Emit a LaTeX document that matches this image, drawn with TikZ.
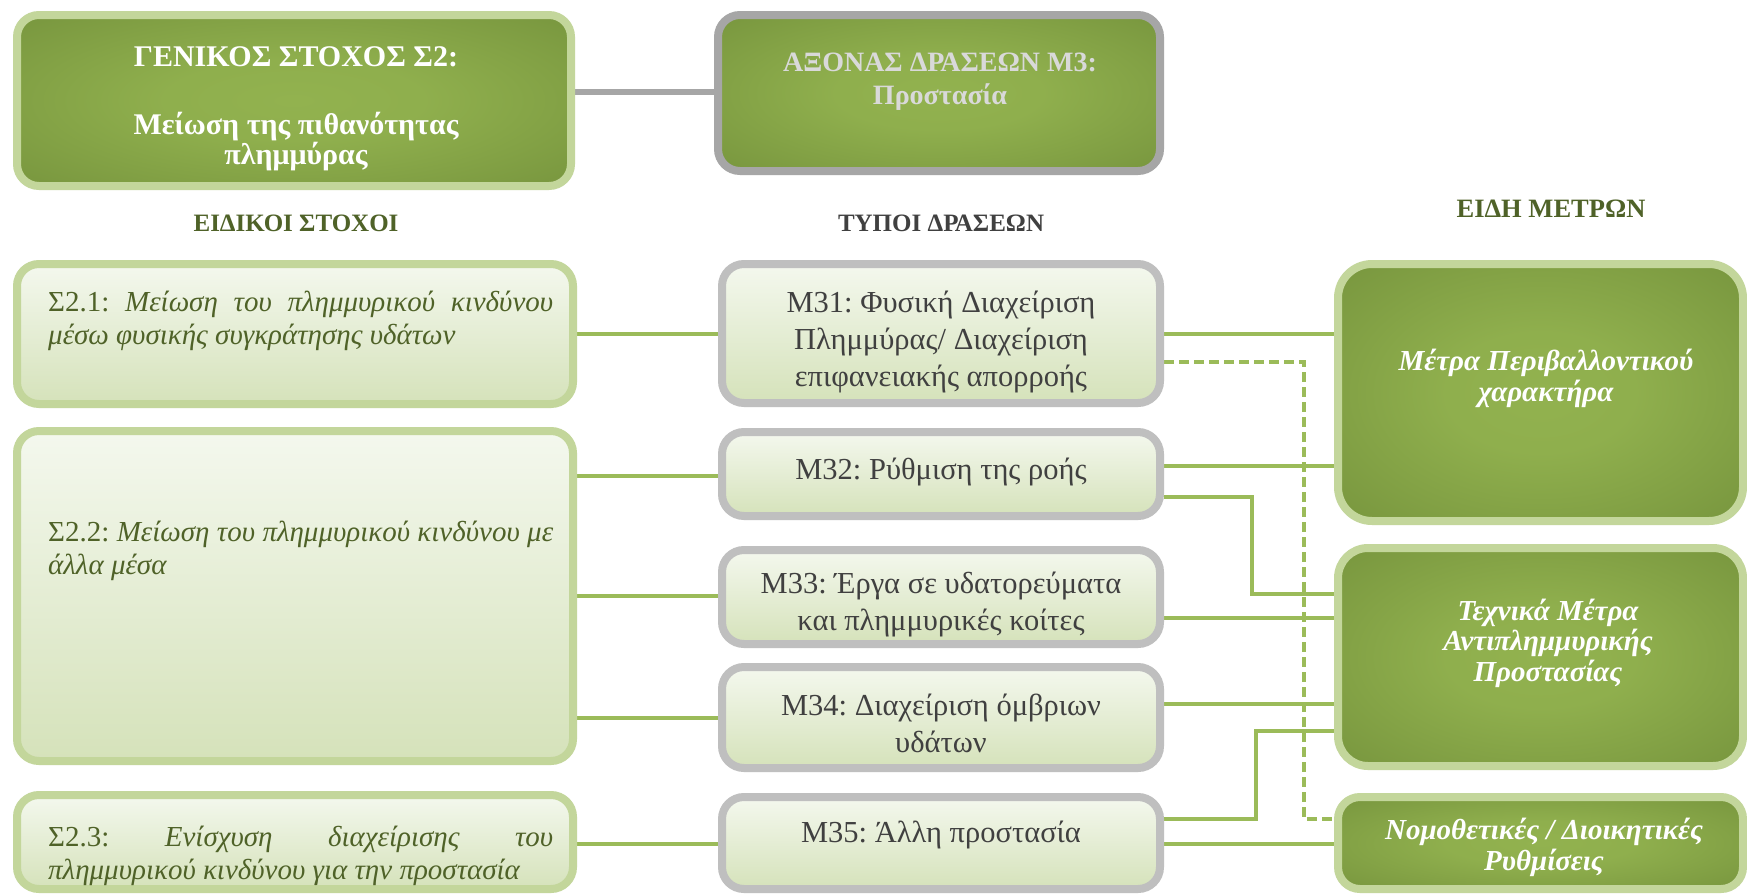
\documentclass[tikz,border=0pt]{standalone}
\usepackage{fontspec}
\setmainfont{Liberation Serif}
\usetikzlibrary{backgrounds}
\frenchspacing

\definecolor{lgborder}{HTML}{C3D69B}
\definecolor{gyborder}{HTML}{BFBFBF}
\definecolor{gyborderdark}{HTML}{A6A6A6}
\definecolor{darkin}{HTML}{92B24F}
\definecolor{darkout}{HTML}{6A8735}
\definecolor{lighttop}{HTML}{F4F8EE}
\definecolor{lightbot}{HTML}{D5E2BA}
\definecolor{linkgreen}{HTML}{9BBB59}
\definecolor{txtgreen}{HTML}{4F6228}
\definecolor{txtgray}{HTML}{404040}
\definecolor{txtsilver}{HTML}{D9D9D9}

% soft glow from the centre of a dark box out to its edges
\pgfdeclareradialshading{boxglow}{\pgfpoint{0bp}{0bp}}{color(0bp)=(darkin); color(12bp)=(darkin!92!darkout); color(50bp)=(darkout)}

\begin{document}
\begin{tikzpicture}[x=1pt,y=-1pt,
  box/.style={line width=8pt, rounded corners=22pt, inner sep=0pt},
  darkbox/.style={box, draw=lgborder, shading=boxglow, shade},
  graydarkbox/.style={box, draw=gyborderdark, shading=boxglow, shade},
  lightbox/.style={box, draw=lgborder, top color=lighttop, bottom color=lightbot},
  graylightbox/.style={box, draw=gyborder, top color=lighttop, bottom color=lightbot},
  link/.style={draw=linkgreen, line width=3.5pt},
  dlink/.style={link, line width=3.8pt, dash pattern=on 10pt off 5pt},
  axislink/.style={draw=gyborderdark, line width=5.5pt},
  hdr/.style={font=\bfseries\fontsize{25}{28}\selectfont, anchor=base, inner sep=0pt},
  gentxt/.style={text=white, font=\bfseries\fontsize{30}{30}\selectfont, align=center, anchor=base, inner sep=0pt},
  axistxt/.style={text=txtsilver, font=\bfseries\fontsize{28}{33}\selectfont, align=center, anchor=base, inner sep=0pt},
  lefttxt/.style={text=txtgreen, font=\fontsize{29}{33}\selectfont, text width=505pt, align=justify, anchor=base west, inner sep=0pt},
  midtxt/.style={text=txtgray, font=\fontsize{30.5}{37}\selectfont, align=center, anchor=base, inner sep=0pt},
  righttxt/.style={text=white, font=\bfseries\itshape\fontsize{29}{30.5}\selectfont, align=center, anchor=base, inner sep=0pt}
]
\useasboundingbox (0,0) rectangle (1747,894);

% top row: general goal and action axis
\node[darkbox, minimum width=554pt, minimum height=171pt] (gen) at (294,100.5) {};
\node[graydarkbox, minimum width=442pt, minimum height=156pt] (axis) at (939,93) {};

% specific goals
\node[lightbox, minimum width=556pt, minimum height=140pt] (s21) at (295,334) {};
\node[lightbox, minimum width=556pt, minimum height=330pt] (s22) at (295,596) {};
\node[lightbox, minimum width=556pt, minimum height=94pt] (s23) at (295,842) {};

% action types
\node[graylightbox, minimum width=438pt, minimum height=139pt] (m31) at (941,333.5) {};
\node[graylightbox, minimum width=438pt, minimum height=84pt] (m32) at (941,474) {};
\node[graylightbox, minimum width=438pt, minimum height=94pt] (m33) at (941,597) {};
\node[graylightbox, minimum width=438pt, minimum height=101pt] (m34) at (941,717.5) {};
\node[graylightbox, minimum width=438pt, minimum height=92pt] (m35) at (941,843) {};

% kinds of measures
\node[darkbox, rounded corners=34pt, minimum width=405pt, minimum height=257pt] (env) at (1540.5,392.5) {};
\node[darkbox, rounded corners=30pt, minimum width=405pt, minimum height=218pt] (tech) at (1540.5,657) {};
\node[darkbox, minimum width=405pt, minimum height=92pt] (nom) at (1540.5,843) {};

% paper and connectors, beneath the boxes
\begin{scope}[on background layer]
  \fill[white] (0,0) rectangle (1747,894);
  \draw[axislink] (gen.east |- 0,92) -- (axis.west |- 0,92);
  \draw[link] (s21.east |- 0,334) -- (m31.west |- 0,334);
  \draw[link] (s22.east |- 0,476) -- (m32.west |- 0,476);
  \draw[link] (s22.east |- 0,596) -- (m33.west |- 0,596);
  \draw[link] (s22.east |- 0,718) -- (m34.west |- 0,718);
  \draw[link] (s23.east |- 0,844) -- (m35.west |- 0,844);
  \coordinate (dv) at (1304,0);
  \coordinate (j32) at (1252,0);
  \coordinate (j35) at (1256,0);
  \draw[link] (m31.east |- 0,334) -- (env.west |- 0,334);
  \draw[dlink] (m31.east |- 0,362) -| (dv |- 0,819) -- (nom.west |- 0,819);
  \draw[link] (m32.east |- 0,466) -- (env.west |- 0,466);
  \draw[link] (m32.east |- 0,497) -| (j32 |- 0,594) -- (tech.west |- 0,594);
  \draw[link] (m33.east |- 0,618) -- (tech.west |- 0,618);
  \draw[link] (m34.east |- 0,704) -- (tech.west |- 0,704);
  \draw[link] (m35.east |- 0,819) -| (j35 |- 0,731) -- (tech.west |- 0,731);
  \draw[link] (m35.east |- 0,844) -- (nom.west |- 0,844);
\end{scope}

% texts (multi-line centred texts are placed by the baseline of their last line)
\node[gentxt] (gent) at (296,164) {ΓΕΝΙΚΟΣ ΣΤΟΧΟΣ Σ2:\\[38pt]Μείωση της πιθανότητας\\πλημμύρας};
\node[axistxt] (axist) at (940,104) {ΑΞΟΝΑΣ ΔΡΑΣΕΩΝ Μ3:\\Προστασία};

\node[hdr, text=txtgreen] (h1) at (296,231) {ΕΙΔΙΚΟΙ ΣΤΟΧΟΙ};
\node[hdr, text=txtgray] (h2) at (941,231) {ΤΥΠΟΙ ΔΡΑΣΕΩΝ};
\node[hdr, text=txtgreen, font=\bfseries\fontsize{26.5}{28}\selectfont] (h3) at (1551,217) {ΕΙΔΗ ΜΕΤΡΩΝ};

\node[lefttxt] (s21t) at (48,311) {Σ2.1: \textit{Μείωση του πλημμυρικού κινδύνου}\linebreak\textit{μέσω φυσικής συγκράτησης υδάτων}};
\node[lefttxt] (s22t) at (48,541) {Σ2.2: \textit{Μείωση του πλημμυρικού κινδύνου με}\linebreak\textit{άλλα μέσα}};
\node[lefttxt] (s23t) at (48,846) {Σ2.3: \textit{Ενίσχυση διαχείρισης του}\linebreak\textit{πλημμυρικού κινδύνου για την προστασία}};

\node[midtxt] (m31t) at (941,386) {Μ31: Φυσική Διαχείριση\\Πλημμύρας/ Διαχείριση\\επιφανειακής απορροής};
\node[midtxt] (m32t) at (941,479) {Μ32: Ρύθμιση της ροής};
\node[midtxt] (m33t) at (941,630) {Μ33: Έργα σε υδατορεύματα\\και πλημμυρικές κοίτες};
\node[midtxt] (m34t) at (941,752) {Μ34: Διαχείριση όμβριων\\υδάτων};
\node[midtxt] (m35t) at (941,842) {Μ35: Άλλη προστασία};

\node[righttxt] (envt) at (1546,401) {Μέτρα Περιβαλλοντικού\\χαρακτήρα};
\node[righttxt] (techt) at (1548,681) {Τεχνικά Μέτρα\\Αντιπλημμυρικής\\Προστασίας};
\node[righttxt] (nomt) at (1544,870) {Νομοθετικές / Διοικητικές\\Ρυθμίσεις};
\end{tikzpicture}
\end{document}
